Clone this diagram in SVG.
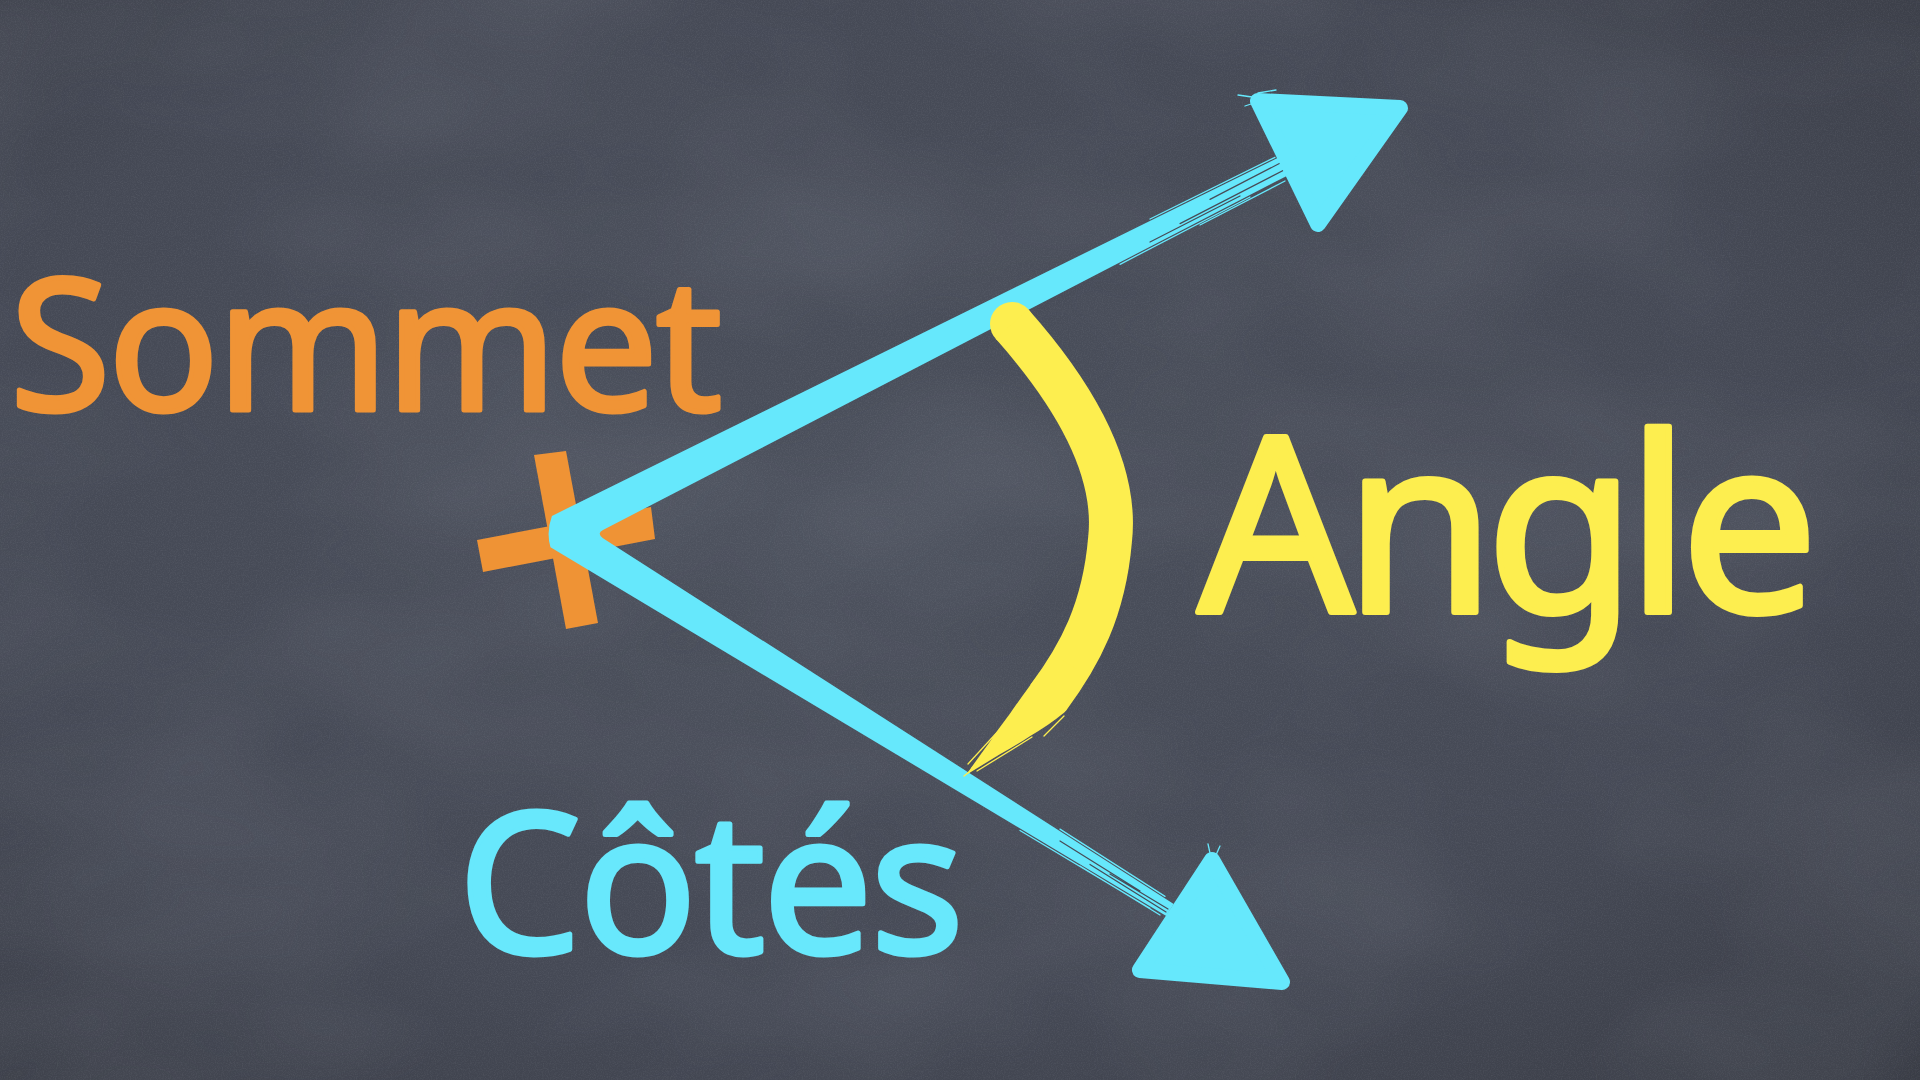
<svg xmlns="http://www.w3.org/2000/svg" width="1920" height="1080" viewBox="0 0 1920 1080">
  <defs>
    <radialGradient id="boardShade" cx="0.45" cy="0.45" r="0.8">
      <stop offset="0" stop-color="#4a4f5b"/>
      <stop offset="0.6" stop-color="#454955"/>
      <stop offset="1" stop-color="#393c45"/>
    </radialGradient>
    <filter id="chalkDust" x="0" y="0" width="100%" height="100%">
      <feTurbulence type="fractalNoise" baseFrequency="0.85" numOctaves="2" seed="4"/>
      <feColorMatrix type="matrix" values="0 0 0 0 0.75  0 0 0 0 0.78  0 0 0 0 0.85  0 0 0 0.5 -0.2"/>
    </filter>
    <filter id="smudge" x="0" y="0" width="100%" height="100%">
      <feTurbulence type="fractalNoise" baseFrequency="0.003 0.005" numOctaves="3" seed="11"/>
      <feColorMatrix type="matrix" values="0 0 0 0 0.62  0 0 0 0 0.66  0 0 0 0 0.74  0 0 0 0.3 -0.1"/>
    </filter>
    <style>
      .label { font-family: "Noto Sans", "Open Sans", "Liberation Sans", sans-serif; stroke-linejoin: round; stroke-linecap: round; }
      .sommet { fill: #f09436; stroke: #f09436; stroke-width: 5; font-size: 183px; }
      .angle { fill: #fdee4f; stroke: #fdee4f; stroke-width: 6; font-size: 244px; }
      .cotes { fill: #68e8fc; stroke: #68e8fc; stroke-width: 5; font-size: 195px; }
      .side { fill: #66e8fc; }
      .streak { fill: none; stroke: #66e8fc; stroke-width: 1.3; stroke-linecap: round; }
      .gap { fill: none; stroke: #474b57; stroke-width: 1.2; stroke-linecap: round; }
      .ystreak { fill: none; stroke: #fdee4f; stroke-width: 1.3; stroke-linecap: round; }
      .head { fill: #66e8fc; stroke: #66e8fc; stroke-width: 16; stroke-linejoin: round; }
    </style>
  </defs>

  <!-- chalkboard -->
  <g id="board">
    <rect width="1920" height="1080" fill="url(#boardShade)"/>
    <rect width="1920" height="1080" filter="url(#smudge)" opacity="0.5"/>
    <rect width="1920" height="1080" filter="url(#chalkDust)" opacity="0.3"/>
  </g>

  <!-- vertex mark -->
  <g id="vertex-mark" fill="#ef9335">
    <polygon points="534,455 566,451 598,623 566,629"/>
    <polygon points="477,540 651,507 655,539 483,572"/>
  </g>

  <!-- sides of the angle: one brushed V shape with arrowheads -->
  <g id="sides">
    <path class="side" d="M1287.5,153.1 L551.9,515.9 Q546,532 550.5,547.3 L1166.3,916 L1173.7,904 L603,538.2 Q596.4,533.6 603,530 L1296.5,170.9 Z"/>
    <!-- bristle marks at the brushed ends -->
    <path class="gap" d="M1180,223.6 L1288,168 M1210,199.4 L1288,159 M1150,242 L1240,196"/>
    <path class="gap" d="M1090,864.4 L1166,912 M1110,874 L1168,909 M1060,841 L1140,891"/>
    <path class="streak" d="M1150,219 L1275,157.3 M1120,264.3 L1250,197 M1200,225 L1285,181"/>
    <path class="streak" d="M1060,829.1 L1165,896.4 M1020,830.5 L1150,908.4 M1080,866 L1160,915"/>
    <polygon class="head" points="1258,101 1400,108 1318,224"/>
    <polygon class="head" points="1212,860 1140,970 1282,982"/>
    <path class="streak" d="M1252,97 L1238,95 M1254,103 L1245,106 M1258,93 L1276,90"/>
    <path class="streak" d="M1210,853 L1208,844 M1216,855 L1220,846 M1204,860 L1202,868"/>
  </g>

  <!-- angle arc: round-capped brush stroke with a tapering tail -->
  <g id="angle-arc" fill="#fdee4f">
    <circle cx="1012" cy="324" r="22"/>
    <path d="M1012,324 C1075,395 1118,470 1110,540 C1104,610 1080,655 1048,698" fill="none" stroke="#fdee4f" stroke-width="44"/>
    <path d="M1053.8,655.3 L1086.6,674.7 L1064.9,712.1 Q1048,726 1030.3,735.9 Q1015,746 1000.3,754 Q984,764 966,775 Q978,758 989.7,742 Q999,728 1009.7,714.1 Q1020,699 1031.1,683.9 Q1043,670 1053.8,655.3 Z"/>
    <path class="ystreak" d="M1022,730 L964,776 M1032,737 L977,771 M1012,716 L968,764 M1064,716 L1044,736 M1000,744 L972,768"/>
  </g>

  <!-- labels -->
  <g id="label-sommet">
    <text class="label sommet" x="10" y="410" textLength="712">Sommet</text>
  </g>
  <g id="label-angle">
    <text class="label angle" x="1198" y="612" textLength="620">Angle</text>
  </g>
  <g id="label-cotes">
    <text class="label cotes" x="458" y="953" textLength="506">Côtés</text>
  </g>
</svg>
